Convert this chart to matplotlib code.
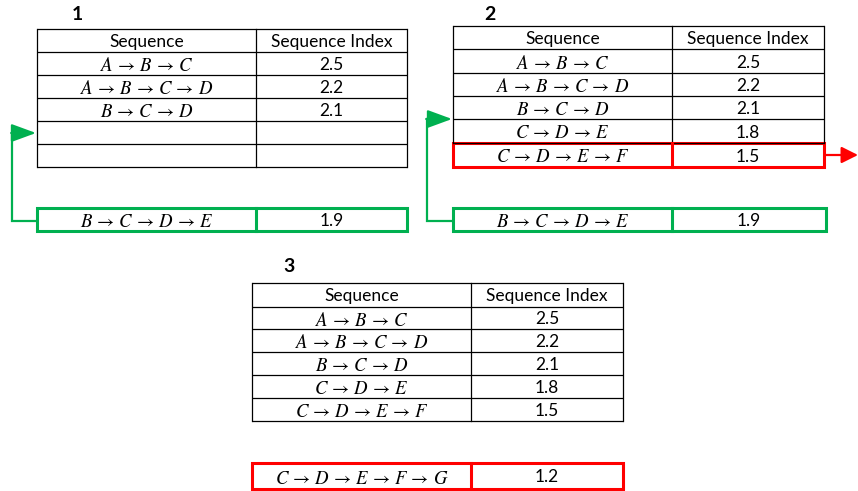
import matplotlib.pyplot as plt
from matplotlib.patches import Rectangle, FancyArrowPatch

plt.rcParams['mathtext.fontset'] = 'stix'

# data
header = ["Sequence", "Sequence Index"]
sequences = ["A,B,C", "A,B,C,D", "B,C,D", "C,D,E", "C,D,E,F"]
indices = [2.5, 2.2, 2.1, 1.8, 1.5]
cand_seq = ["B,C,D,E", "B,C,D,E", "C,D,E,F,G"]
cand_idx = [1.9, 1.9, 1.2]
shown_rows = [3, 5, 5]
panel_labels = ["1", "2", "3"]

GREEN = "#00b050"
RED = "#ff0000"
TXT = "Lato"
FS = 12.5
MFS = 13.5


def seq_tex(s):
    return "$" + r"\,\rightarrow\,".join(s.split(",")) + "$"


fig = plt.figure(figsize=(8.58, 4.91), dpi=100)
ax = fig.add_axes([0, 0, 1, 1])
ax.set_xlim(0, 858)
ax.set_ylim(491, 0)
ax.axis("off")


def draw_table(x0, xm, x1, ys, n_filled):
    # grid
    for y in ys:
        ax.plot([x0, x1], [y, y], color="black", lw=0.9, solid_capstyle="butt")
    for x in (x0, xm, x1):
        ax.plot([x, x], [ys[0], ys[-1]], color="black", lw=0.9)
    cy = (ys[0] + ys[1]) / 2
    ax.text((x0 + xm) / 2, cy, header[0], ha="center", va="center_baseline",
            fontsize=FS, family=TXT)
    ax.text((xm + x1) / 2, cy, header[1], ha="center", va="center_baseline",
            fontsize=FS, family=TXT)
    for i in range(n_filled):
        cy = (ys[i + 1] + ys[i + 2]) / 2
        ax.text((x0 + xm) / 2, cy, seq_tex(sequences[i]), ha="center",
                va="center_baseline", fontsize=MFS)
        ax.text((xm + x1) / 2, cy, f"{indices[i]:.1f}", ha="center",
                va="center_baseline", fontsize=FS, family=TXT)


def draw_box(x0, xm, x1, y0, y1, color, seq, val):
    ax.add_patch(Rectangle((x0, y0), x1 - x0, y1 - y0, fill=False,
                           ec=color, lw=2.2))
    ax.plot([xm, xm], [y0, y1], color=color, lw=2.2)
    cy = (y0 + y1) / 2
    ax.text((x0 + xm) / 2, cy, seq_tex(seq), ha="center",
            va="center_baseline", fontsize=MFS)
    ax.text((xm + x1) / 2, cy, f"{val:.1f}", ha="center",
            va="center_baseline", fontsize=FS, family=TXT)


def elbow_arrow(x_from, y_from, x_side, y_to, x_tip, color):
    ax.plot([x_from, x_side, x_side], [y_from, y_from, y_to], color=color,
            lw=1.6, solid_joinstyle="miter")
    ax.add_patch(FancyArrowPatch((x_side - 0.8, y_to), (x_tip, y_to),
                                 arrowstyle="-|>,head_length=1.5,head_width=0.55",
                                 mutation_scale=10, color=color, lw=1.6,
                                 shrinkA=0, shrinkB=0))


# panel 1
ys1 = [29, 52, 75, 98, 121, 144, 167]
draw_table(37, 256, 407, ys1, shown_rows[0])
draw_box(37, 256, 407, 208, 231, GREEN, cand_seq[0], cand_idx[0])
elbow_arrow(37, 221, 12, 133, 36, GREEN)
ax.text(77, 14, panel_labels[0], ha="center", va="center", fontsize=14,
        fontweight="bold", family=TXT)

# panel 2
ys2 = [26, 49, 73, 96, 119, 143]
draw_table(453, 672, 824, ys2, shown_rows[1] - 1)
draw_box(453, 672, 824, 143, 167, RED, sequences[4], indices[4])
draw_box(453, 672, 826, 208, 231, GREEN, cand_seq[1], cand_idx[1])
elbow_arrow(453, 221, 427, 119, 452, GREEN)
ax.add_patch(FancyArrowPatch((825, 155), (858, 155),
                             arrowstyle="-|>,head_length=1.0,head_width=0.5",
                             mutation_scale=10, color=RED, lw=1.6,
                             shrinkA=0, shrinkB=0))
ax.text(490, 14, panel_labels[1], ha="center", va="center", fontsize=14,
        fontweight="bold", family=TXT)

# panel 3
ys3 = [283, 307, 329, 352, 375, 398, 421]
draw_table(252, 471, 623, ys3, shown_rows[2])
draw_box(252, 471, 623, 463, 489, RED, cand_seq[2], cand_idx[2])
ax.text(289, 267, panel_labels[2], ha="center", va="center", fontsize=14,
        fontweight="bold", family=TXT)

fig.savefig("out.png", dpi=100)
